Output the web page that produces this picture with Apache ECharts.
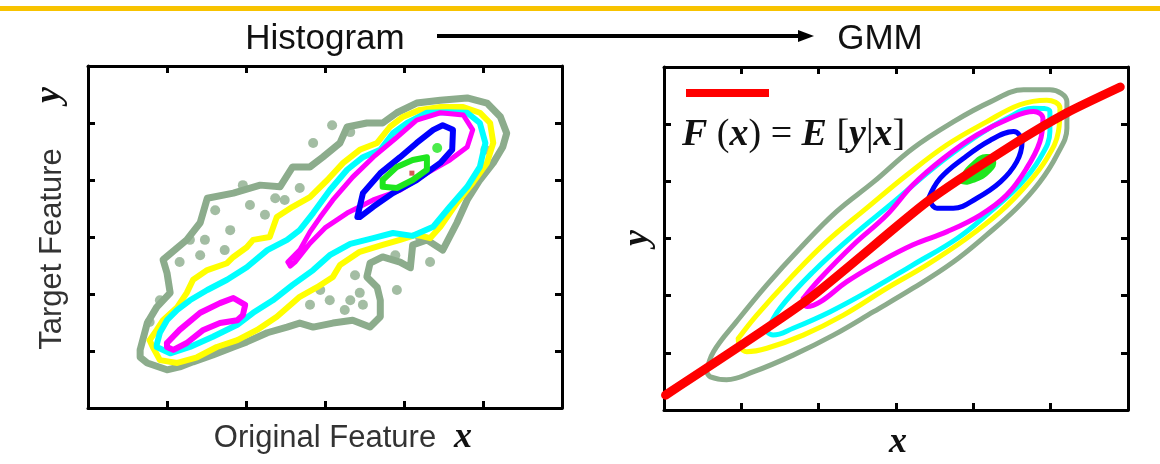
<!DOCTYPE html>
<html>
<head>
<meta charset="utf-8">
<title>Histogram to GMM</title>
<script src="https://cdn.jsdelivr.net/npm/echarts@6/dist/echarts.min.js"></script>
<style>
  html, body { margin: 0; padding: 0; background: #fff; }
  #chart { width: 1160px; height: 464px; }
</style>
</head>
<body>
<div id="chart"></div>
<script>
// ---- left panel: histogram contours (x, y in axis units 0..6) ----
var histGray = [[0.66,1.02],[0.75,1.49],[0.87,1.77],[1.04,2.02],[1.00,2.37],[0.95,2.60],[1.25,2.95],[1.42,3.25],[1.51,3.68],[1.84,3.77],[2.18,3.91],[2.43,3.88],[2.59,4.23],[2.81,4.23],[2.97,4.40],[3.19,4.65],[3.28,4.93],[3.53,5.00],[3.73,5.00],[3.91,5.18],[4.16,5.35],[4.46,5.40],[4.80,5.44],[5.05,5.35],[5.22,5.11],[5.30,4.82],[5.25,4.58],[5.13,4.30],[4.96,4.00],[4.80,3.65],[4.67,3.25],[4.49,2.77],[4.29,2.95],[4.11,2.86],[4.08,2.46],[3.95,2.56],[3.73,2.65],[3.57,2.54],[3.53,2.30],[3.66,2.12],[3.70,1.89],[3.70,1.60],[3.57,1.42],[3.35,1.54],[3.10,1.49],[2.85,1.42],[2.68,1.49],[2.52,1.42],[2.27,1.32],[2.01,1.16],[1.84,1.07],[1.58,0.93],[1.33,0.81],[1.16,0.72],[1.00,0.67],[0.75,0.79],[0.66,0.89]];
var histSpots = [[2.85,4.65],[3.09,4.96],[3.32,4.84],[1.96,3.91],[1.61,3.47],[2.05,3.56],[2.37,3.68],[1.29,2.95],[1.16,2.56],[1.42,2.68],[3.91,2.07],[3.06,1.89],[3.32,1.89],[2.94,2.07],[3.48,1.81],[4.33,2.56],[4.20,3.00],[1.80,3.12],[2.24,3.39],[2.49,3.65],[2.68,3.86],[1.73,2.77],[1.48,2.95],[0.91,1.89],[0.78,1.51],[2.81,1.81],[3.25,1.72],[3.44,2.02],[3.38,2.33],[3.89,2.68],[4.84,3.82],[5.03,4.53]];
var histYellow = [[0.78,1.19],[0.87,1.37],[0.95,1.54],[1.13,1.77],[1.25,2.02],[1.33,2.25],[1.51,2.42],[1.76,2.54],[1.84,2.65],[2.01,2.82],[2.09,2.95],[2.30,3.00],[2.39,3.35],[2.59,3.53],[2.81,3.70],[3.03,4.00],[3.23,4.30],[3.44,4.53],[3.66,4.65],[3.82,4.93],[3.99,5.11],[4.20,5.23],[4.46,5.28],[4.75,5.28],[4.96,5.18],[5.09,5.00],[5.13,4.65],[5.05,4.30],[4.87,3.95],[4.67,3.60],[4.46,3.18],[4.33,2.98],[4.16,3.04],[3.95,2.95],[3.73,2.86],[3.44,2.74],[3.19,2.51],[3.10,2.30],[2.90,2.12],[2.68,1.95],[2.59,1.84],[2.39,1.60],[2.14,1.37],[1.89,1.19],[1.63,1.07],[1.38,0.89],[1.13,0.79],[0.91,0.84],[0.82,1.07]];
var histCyan = [[0.87,1.11],[0.91,1.32],[1.00,1.54],[1.13,1.72],[1.29,1.89],[1.51,2.07],[1.76,2.25],[2.01,2.47],[2.27,2.77],[2.52,2.95],[2.68,3.12],[2.85,3.42],[3.06,3.82],[3.28,4.18],[3.48,4.40],[3.70,4.53],[3.86,4.82],[4.04,5.00],[4.29,5.18],[4.54,5.19],[4.80,5.18],[4.96,5.00],[5.03,4.65],[4.96,4.23],[4.80,3.88],[4.58,3.53],[4.37,3.18],[4.11,3.02],[3.86,3.07],[3.61,2.98],[3.32,2.88],[3.06,2.68],[2.85,2.42],[2.59,2.16],[2.34,1.89],[2.09,1.67],[1.89,1.46],[1.58,1.25],[1.29,1.07],[1.04,0.96],[0.87,1.07]];
var histMagentaLow = [[1.00,1.14],[1.16,1.37],[1.42,1.67],[1.67,1.84],[1.84,1.93],[1.99,1.81],[1.96,1.63],[1.89,1.54],[1.67,1.49],[1.46,1.37],[1.25,1.14],[1.08,1.02],[1.00,1.07]];
var histMagentaHigh = [[2.53,2.56],[2.68,2.77],[2.81,3.09],[2.94,3.35],[3.10,3.65],[3.35,4.05],[3.61,4.40],[3.91,4.75],[4.16,5.05],[4.46,5.18],[4.75,5.14],[4.87,4.88],[4.80,4.58],[4.58,4.35],[4.29,4.12],[3.95,3.82],[3.61,3.65],[3.28,3.42],[3.00,3.16],[2.81,2.89],[2.62,2.56],[2.56,2.49]];
var histBlue = [[3.41,3.35],[3.48,3.77],[3.70,4.12],[3.95,4.40],[4.16,4.65],[4.37,4.88],[4.49,4.96],[4.62,4.88],[4.61,4.53],[4.46,4.30],[4.16,4.00],[3.86,3.77],[3.61,3.53],[3.44,3.35]];
var histGreen = [[3.73,4.00],[3.91,4.23],[4.11,4.35],[4.29,4.40],[4.29,4.18],[4.11,4.00],[3.91,3.86],[3.73,3.88]];
var histGreenSpot = [[4.42,4.56]];
var histPeak = [[4.10,4.12]];

// ---- right panel: GMM contours and regression line ----
var gmmGray = [[0.55,0.67],[0.64,1.02],[0.94,1.55],[1.33,2.19],[1.76,2.83],[2.23,3.47],[2.71,3.99],[3.22,4.58],[3.74,5.04],[4.22,5.39],[4.65,5.60],[4.99,5.60],[5.21,5.39],[5.21,4.93],[5.08,4.46],[4.86,3.99],[4.56,3.53],[4.17,3.06],[3.74,2.59],[3.22,2.13],[2.71,1.72],[2.19,1.31],[1.67,0.96],[1.16,0.67],[0.81,0.53],[0.60,0.58]];
var gmmYellow = [[0.96,1.25],[1.20,1.66],[1.63,2.30],[2.10,2.94],[2.62,3.53],[3.14,4.11],[3.66,4.64],[4.17,5.04],[4.60,5.34],[4.95,5.42],[5.12,5.28],[5.10,4.87],[4.95,4.40],[4.69,3.94],[4.35,3.47],[3.91,3.00],[3.40,2.54],[2.88,2.13],[2.32,1.66],[1.80,1.31],[1.33,1.08],[1.07,1.02],[0.98,1.11]];
var gmmCyan = [[1.33,1.37],[1.50,1.78],[1.93,2.42],[2.45,3.06],[2.97,3.64],[3.48,4.23],[4.00,4.75],[4.43,5.10],[4.78,5.28],[4.99,5.22],[4.99,4.87],[4.86,4.40],[4.60,3.94],[4.22,3.47],[3.79,3.00],[3.22,2.54],[2.71,2.13],[2.15,1.72],[1.67,1.43],[1.41,1.31]];
var gmmMagenta = [[1.80,1.95],[2.02,2.30],[2.45,2.89],[2.88,3.41],[3.22,3.94],[3.61,4.40],[4.04,4.81],[4.47,5.10],[4.78,5.22],[4.90,5.10],[4.86,4.69],[4.69,4.23],[4.43,3.76],[4.09,3.41],[3.66,3.12],[3.22,2.89],[2.79,2.59],[2.36,2.24],[2.02,1.89],[1.85,1.81]];
var gmmBlue = [[3.42,3.70],[3.57,4.05],[3.87,4.40],[4.22,4.72],[4.52,4.87],[4.63,4.69],[4.56,4.34],[4.35,3.99],[4.04,3.70],[3.74,3.53],[3.53,3.53]];
var gmmGreen = [[3.83,4.05],[4.00,4.34],[4.17,4.46],[4.28,4.37],[4.22,4.17],[4.00,3.99],[3.85,3.97]];
var gmmRegression = [[0.02,0.26],[1.85,1.92],[3.40,3.64],[4.51,4.64],[5.21,5.20],[5.90,5.65]];

var COLORS = {
  gray: '#8cac8c',
  yellow: '#ffff00',
  cyan: '#00ffff',
  magenta: '#ff00ff',
  blue: '#0000ff',
  green: '#1ee61e',
  red: '#ff0000'
};

var chart = echarts.init(document.getElementById('chart'));

// closed contour drawn as a line series
function contour(pts, color, width, axis, smooth) {
  return {
    type: 'line',
    xAxisIndex: axis,
    yAxisIndex: axis,
    data: pts.concat([pts[0]]),
    showSymbol: false,
    symbol: 'none',
    smooth: smooth || false,
    silent: true,
    lineStyle: { color: color, width: width, join: 'round', cap: 'round' }
  };
}

function frameX(grid, pos) {
  return {
    type: 'value', gridIndex: grid, position: pos, min: 0, max: 6, interval: 1,
    axisLine: { show: true, onZero: false, lineStyle: { color: '#000', width: 3 } },
    axisTick: { show: true, inside: true, length: 7, lineStyle: { color: '#000', width: 3 } },
    axisLabel: { show: false },
    splitLine: { show: false }
  };
}

var serifBI = { fontFamily: 'Liberation Serif', fontStyle: 'italic', fontWeight: 'bold', fill: '#111' };

var option = {
  animation: false,
  backgroundColor: '#fff',
  grid: [
    { left: 88, top: 66, width: 474, height: 342 },
    { left: 664, top: 67, width: 464, height: 343 }
  ],
  xAxis: [frameX(0, 'bottom'), frameX(0, 'top'), frameX(1, 'bottom'), frameX(1, 'top')],
  yAxis: [frameX(0, 'left'), frameX(0, 'right'), frameX(1, 'left'), frameX(1, 'right')],
  series: [
    contour(histGray, COLORS.gray, 7, 0),
    {
      type: 'scatter', xAxisIndex: 0, yAxisIndex: 0, data: histSpots,
      symbolSize: 10, itemStyle: { color: COLORS.gray }, silent: true
    },
    contour(histYellow, COLORS.yellow, 6, 0),
    contour(histCyan, COLORS.cyan, 6, 0),
    contour(histMagentaLow, COLORS.magenta, 6, 0),
    contour(histMagentaHigh, COLORS.magenta, 5, 0),
    contour(histBlue, COLORS.blue, 6, 0),
    contour(histGreen, COLORS.green, 6, 0),
    {
      type: 'scatter', xAxisIndex: 0, yAxisIndex: 0, data: histGreenSpot,
      symbolSize: 10, itemStyle: { color: COLORS.green }, silent: true
    },
    {
      type: 'scatter', xAxisIndex: 0, yAxisIndex: 0, data: histPeak,
      symbolSize: 5, symbol: 'rect', itemStyle: { color: '#c8302a' }, silent: true
    },

    contour(gmmGray, COLORS.gray, 5, 2, 0.4),
    contour(gmmYellow, COLORS.yellow, 5, 2, 0.4),
    contour(gmmCyan, COLORS.cyan, 5, 2, 0.4),
    contour(gmmMagenta, COLORS.magenta, 5, 2, 0.4),
    contour(gmmBlue, COLORS.blue, 5, 2, 0.4),
    {
      // small filled core of the mixture
      type: 'custom', xAxisIndex: 2, yAxisIndex: 2, data: [[0, 0]], silent: true,
      renderItem: function (params, api) {
        var pts = gmmGreen.map(function (p) { return api.coord(p); });
        return {
          type: 'polygon',
          shape: { points: pts, smooth: 0.5 },
          style: { fill: COLORS.green, stroke: COLORS.green, lineWidth: 2 }
        };
      }
    },
    {
      type: 'line', xAxisIndex: 2, yAxisIndex: 2, data: gmmRegression,
      showSymbol: false, symbol: 'none', smooth: 0.2, silent: true, z: 5,
      lineStyle: { color: COLORS.red, width: 9, cap: 'round' }
    }
  ],
  graphic: [
    // top rule
    { type: 'rect', shape: { x: 0, y: 6, width: 1160, height: 5 }, style: { fill: '#f8c300' } },
    // titles and arrow
    { type: 'text', x: 325, y: 39, style: { text: 'Histogram', font: '35px "Liberation Sans"', fill: '#111', align: 'center', verticalAlign: 'middle' } },
    { type: 'text', x: 880, y: 39, style: { text: 'GMM', font: '35px "Liberation Sans"', fill: '#111', align: 'center', verticalAlign: 'middle' } },
    { type: 'line', shape: { x1: 437, y1: 36, x2: 802, y2: 36 }, style: { stroke: '#000', lineWidth: 4 } },
    { type: 'polygon', shape: { points: [[798, 30], [814, 36], [798, 42]] }, style: { fill: '#000' } },
    // left panel axis titles
    { type: 'text', x: 325, y: 438, style: { text: 'Original Feature', font: '31px "Liberation Sans"', fill: '#333', align: 'center', verticalAlign: 'middle' } },
    { type: 'text', x: 463, y: 438, style: Object.assign({ text: 'x', fontSize: 36, align: 'center', verticalAlign: 'middle' }, serifBI) },
    { type: 'text', x: 52, y: 249, rotation: Math.PI / 2, style: { text: 'Target Feature', font: '31px "Liberation Sans"', fill: '#333', align: 'center', verticalAlign: 'middle' } },
    { type: 'text', x: 50, y: 95, rotation: Math.PI / 2, style: Object.assign({ text: 'y', fontSize: 36, align: 'center', verticalAlign: 'middle' }, serifBI) },
    // right panel axis titles
    { type: 'text', x: 898, y: 443, style: Object.assign({ text: 'x', fontSize: 36, align: 'center', verticalAlign: 'middle' }, serifBI) },
    { type: 'text', x: 638, y: 238, rotation: Math.PI / 2, style: Object.assign({ text: 'y', fontSize: 36, align: 'center', verticalAlign: 'middle' }, serifBI) },
    // legend of the regression line
    { type: 'line', shape: { x1: 686, y1: 93, x2: 769, y2: 93 }, style: { stroke: COLORS.red, lineWidth: 8 } },
    {
      type: 'text', x: 682, y: 135,
      style: {
        text: '{i|F} {n|(}{i|x}{n|)} {n|=} {i|E} {n|[}{i|y}{n||}{i|x}{n|]}',
        verticalAlign: 'middle',
        rich: {
          i: { fontFamily: 'Liberation Serif', fontStyle: 'italic', fontWeight: 'bold', fontSize: 38, fill: '#111' },
          n: { fontFamily: 'Liberation Serif', fontSize: 38, fill: '#111' }
        },
        fontFamily: 'Liberation Serif', fontSize: 38, fill: '#111'
      }
    }
  ]
};

chart.setOption(option);
</script>
</body>
</html>
